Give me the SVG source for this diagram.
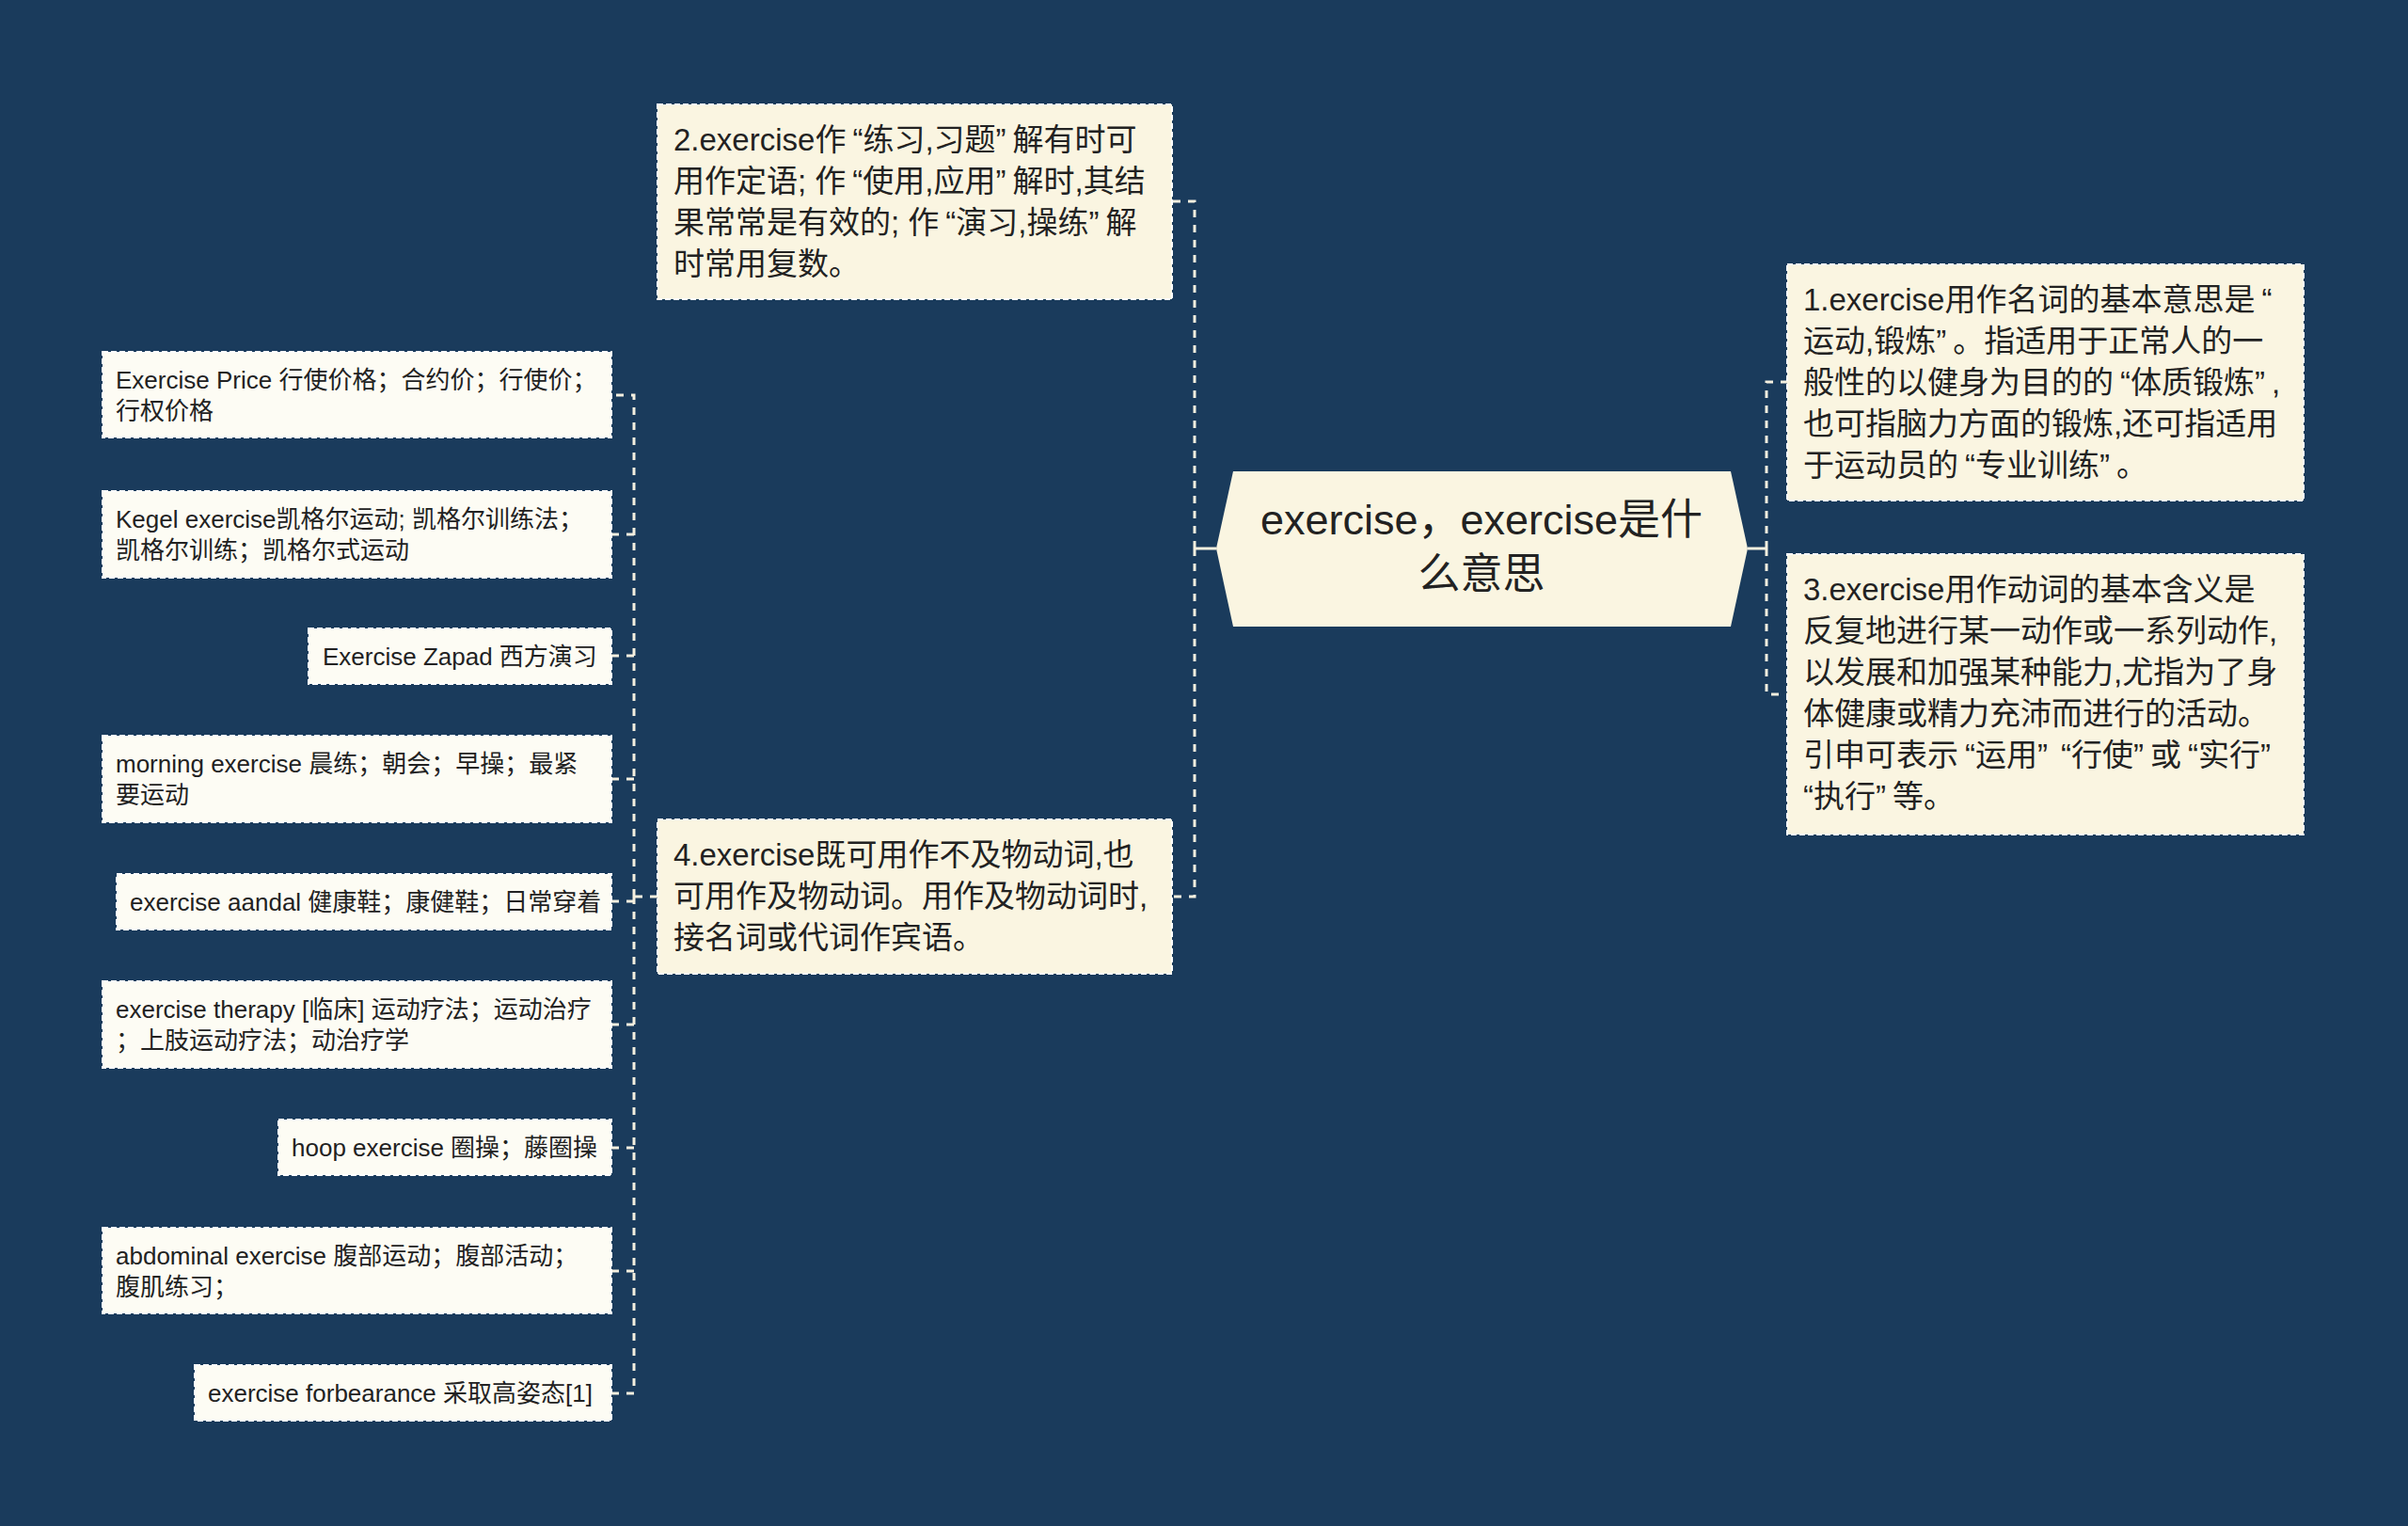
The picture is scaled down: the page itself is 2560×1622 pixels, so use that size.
<svg xmlns="http://www.w3.org/2000/svg" width="2560" height="1622" viewBox="0 0 2560 1622">
<style>
.box{fill:#faf5e1;stroke:#ffffff;stroke-width:2;stroke-dasharray:6 3}
.leaf{fill:#fdfcf4;stroke:#ffffff;stroke-width:2;stroke-dasharray:6 3}
.hub{fill:#faf5e1}
.t{font-family:"Liberation Sans","Noto Sans CJK SC",sans-serif;fill:#222222}
.m{font-size:33px}
.l{font-size:26px}
.c{font-size:45px;text-anchor:middle}
.dash{fill:none;stroke:#f4efdf;stroke-width:3;stroke-dasharray:8 8}
.solid{fill:none;stroke:#f4efdf;stroke-width:3}
</style>
<rect x="0" y="0" width="2560" height="1622" fill="#1a3b5c"/>
<g id="connectors">
<path class="solid" d="M1293 583 H1270"/>
<path class="dash" d="M1270 583 V214 H1246"/>
<path class="dash" d="M1270 583 V953 H1246"/>
<path class="solid" d="M1858 583 H1878"/>
<path class="dash" d="M1878 583 V406 H1900"/>
<path class="dash" d="M1878 583 V738 H1900"/>
<path class="dash" d="M699 953 H674"/>
<path class="dash" d="M674 953 V420 H650"/>
<path class="dash" d="M674 953 V1481 H650"/>
<path class="dash" d="M674 568 H650"/>
<path class="dash" d="M674 697 H650"/>
<path class="dash" d="M674 828 H650"/>
<path class="dash" d="M674 958 H650"/>
<path class="dash" d="M674 1089 H650"/>
<path class="dash" d="M674 1220 H650"/>
<path class="dash" d="M674 1351 H650"/>
</g>
<g id="center">
<polygon class="hub" points="1293,583 1311,501 1840,501 1858,583 1840,666 1311,666"/>
<text class="t c" x="1575" y="568">exercise，exercise是什</text>
<text class="t c" x="1575" y="626">么意思</text>
</g>
<g id="n2">
<rect class="box" x="699" y="111" width="547" height="207"/>
<text class="t m" x="716" y="160">2.exercise作<tspan dx="7">“</tspan>练习,习题”<tspan dx="7">解</tspan>有时可</text>
<text class="t m" x="716" y="204">用作定语; 作<tspan dx="7">“</tspan>使用,应用”<tspan dx="7">解</tspan>时,其结</text>
<text class="t m" x="716" y="248">果常常是有效的; 作<tspan dx="7">“</tspan>演习,操练”<tspan dx="7">解</tspan></text>
<text class="t m" x="716" y="292">时常用复数。</text>
</g>
<g id="n4">
<rect class="box" x="699" y="871" width="547" height="164"/>
<text class="t m" x="716" y="920">4.exercise既可用作不及物动词,也</text>
<text class="t m" x="716" y="964">可用作及物动词。用作及物动词时,</text>
<text class="t m" x="716" y="1008">接名词或代词作宾语。</text>
</g>
<g id="n1">
<rect class="box" x="1900" y="281" width="549" height="251"/>
<text class="t m" x="1917" y="330">1.exercise用作名词的基本意思是<tspan dx="7">“</tspan></text>
<text class="t m" x="1917" y="374">运动,锻炼”<tspan dx="7">。</tspan>指适用于正常人的一</text>
<text class="t m" x="1917" y="418">般性的以健身为目的的<tspan dx="7">“</tspan>体质锻炼”<tspan dx="7">,</tspan></text>
<text class="t m" x="1917" y="462">也可指脑力方面的锻炼,还可指适用</text>
<text class="t m" x="1917" y="506">于运动员的<tspan dx="7">“</tspan>专业训练”<tspan dx="7">。</tspan></text>
</g>
<g id="n3">
<rect class="box" x="1900" y="589" width="549" height="298"/>
<text class="t m" x="1917" y="638">3.exercise用作动词的基本含义是</text>
<text class="t m" x="1917" y="682">反复地进行某一动作或一系列动作,</text>
<text class="t m" x="1917" y="726">以发展和加强某种能力,尤指为了身</text>
<text class="t m" x="1917" y="770">体健康或精力充沛而进行的活动。</text>
<text class="t m" x="1917" y="814">引申可表示<tspan dx="7">“</tspan>运用”<tspan dx="14">“</tspan>行使”<tspan dx="7">或</tspan><tspan dx="7">“</tspan>实行”</text>
<text class="t m" x="1917" y="858">“执行”<tspan dx="7">等</tspan>。</text>
</g>
<g id="leaf1">
<rect class="leaf" x="109" y="374" width="541" height="91"/>
<text class="t l" x="123" y="413">Exercise Price 行使价格；合约价；行使价；</text>
<text class="t l" x="123" y="446">行权价格</text>
</g>
<g id="leaf2">
<rect class="leaf" x="109" y="522" width="541" height="92"/>
<text class="t l" x="123" y="561">Kegel exercise凯格尔运动; 凯格尔训练法；</text>
<text class="t l" x="123" y="594">凯格尔训练；凯格尔式运动</text>
</g>
<g id="leaf3">
<rect class="leaf" x="328" y="668" width="322" height="59"/>
<text class="t l" x="343" y="707">Exercise Zapad 西方演习</text>
</g>
<g id="leaf4">
<rect class="leaf" x="109" y="782" width="541" height="92"/>
<text class="t l" x="123" y="821">morning exercise 晨练；朝会；早操；最紧</text>
<text class="t l" x="123" y="854">要运动</text>
</g>
<g id="leaf5">
<rect class="leaf" x="124" y="929" width="526" height="59"/>
<text class="t l" x="138" y="968">exercise aandal 健康鞋；康健鞋；日常穿着</text>
</g>
<g id="leaf6">
<rect class="leaf" x="109" y="1043" width="541" height="92"/>
<text class="t l" x="123" y="1082">exercise therapy [临床] 运动疗法；运动治疗</text>
<text class="t l" x="123" y="1115">；上肢运动疗法；动治疗学</text>
</g>
<g id="leaf7">
<rect class="leaf" x="296" y="1190" width="354" height="59"/>
<text class="t l" x="310" y="1229">hoop exercise 圈操；藤圈操</text>
</g>
<g id="leaf8">
<rect class="leaf" x="109" y="1305" width="541" height="91"/>
<text class="t l" x="123" y="1344">abdominal exercise 腹部运动；腹部活动；</text>
<text class="t l" x="123" y="1377">腹肌练习；</text>
</g>
<g id="leaf9">
<rect class="leaf" x="207" y="1451" width="443" height="59"/>
<text class="t l" x="221" y="1490">exercise forbearance 采取高姿态[1]</text>
</g>
</svg>
